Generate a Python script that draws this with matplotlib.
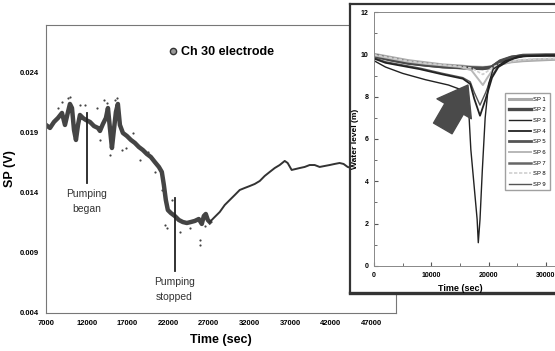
import matplotlib
matplotlib.use('Agg')
import matplotlib.pyplot as plt
from matplotlib.lines import Line2D
from matplotlib.ticker import MultipleLocator

plt.rcParams['font.family'] = ['Liberation Sans', 'DejaVu Sans']

# ---- main chart: Ch 30 electrode SP (V) vs time (sec)
time_noisy = [7000, 7490, 7980, 8470, 8960, 9330, 9700, 9940, 10190, 10440, 10680, 10930,
              11170, 11540, 11910, 12400, 12890, 13380, 13630, 13990, 14360, 14610, 14850,
              15100, 15340, 15590, 15830, 16080, 16450, 16940, 17430, 17920, 18410, 18900,
              19390, 19880, 20370, 20870, 21230, 21480, 21720, 21970, 22340, 22830, 23320,
              23810, 24300, 24790, 25280, 25770, 26140, 26390, 26630, 26880, 27120]
sp_noisy = [0.01967, 0.01942, 0.01992, 0.02025, 0.02067, 0.01967, 0.02075, 0.02142, 0.02108,
            0.01925, 0.01842, 0.01967, 0.0205, 0.02025, 0.02008, 0.01992, 0.01958, 0.01942,
            0.01917, 0.01975, 0.02025, 0.02108, 0.01942, 0.01775, 0.01925, 0.02075, 0.02142,
            0.01967, 0.019, 0.01875, 0.01842, 0.01817, 0.01783, 0.01758, 0.01725, 0.017,
            0.01658, 0.01617, 0.01575, 0.01467, 0.01342, 0.01258, 0.01233, 0.01208, 0.01175,
            0.01158, 0.0115, 0.01158, 0.01167, 0.01183, 0.01142, 0.01208, 0.01225, 0.01175,
            0.01158]
time_recovery = [27120, 27610, 28350, 28960, 29580, 30190, 30800, 31420, 32030, 32640, 33260,
                 33870, 34480, 35100, 35710, 36330, 36690, 37180, 37680, 38170, 38780, 39390,
                 40010, 40620, 41230, 41850, 42460, 43070, 43560, 44060, 44550, 45530, 48000]
sp_recovery = [0.01158, 0.01192, 0.01242, 0.013, 0.01342, 0.01383, 0.01425, 0.01442, 0.01458,
               0.01475, 0.015, 0.01542, 0.01575, 0.01608, 0.01633, 0.01667, 0.0165, 0.01592,
               0.016, 0.01608, 0.01617, 0.01633, 0.01633, 0.01617, 0.01625, 0.01633, 0.01642,
               0.0165, 0.01642, 0.01617, 0.01608, 0.01608, 0.0161]
outlier_time = [8470, 8960, 9700, 9940, 11170, 11790, 13260, 13630, 14120, 14480, 14850, 15470,
                15710, 16330, 16820, 17670, 18530, 19520, 20370, 21230, 21600, 21850, 22460,
                23440, 24670, 25900, 25900, 26510]
outlier_sp = [0.02108, 0.02158, 0.02192, 0.022, 0.02133, 0.02133, 0.02108, 0.01842, 0.02175,
              0.0215, 0.01717, 0.02175, 0.02192, 0.01758, 0.01775, 0.019, 0.01675, 0.0174,
              0.01575, 0.01425, 0.01133, 0.01108, 0.01342, 0.01075, 0.01108, 0.01008, 0.00967,
              0.01125]
main_xticks = [7000, 12000, 17000, 22000, 27000, 32000, 37000, 42000, 47000]
main_yticks = [0.004, 0.009, 0.014, 0.019, 0.024]
pump_began = 12000
pump_stopped = 22800

# ---- inset: water level (m) of SP 1..SP 9
t_flat = [0, 3000, 6000, 9000, 12000, 15000, 17000, 19000, 20500, 22000, 24000, 26000, 30000, 35000]
sp1 = [10.0, 9.85, 9.7, 9.6, 9.5, 9.45, 9.4, 9.38, 9.4, 9.55, 9.65, 9.7, 9.75, 9.8]
sp2 = [9.95, 9.75, 9.6, 9.5, 9.42, 9.38, 9.35, 9.33, 9.38, 9.65, 9.85, 9.95, 9.97, 9.97]
sp5 = [9.9, 9.72, 9.57, 9.48, 9.4, 9.36, 9.33, 9.32, 9.4, 9.7, 9.88, 9.93, 9.95, 9.95]
sp7 = [9.97, 9.8, 9.65, 9.55, 9.47, 9.42, 9.38, 9.36, 9.42, 9.68, 9.86, 9.94, 9.96, 9.96]
t_dip = [0, 3000, 6000, 9000, 12000, 15000, 17000, 18000, 19000, 19800, 20800, 22000, 24000,
         26000, 30000, 35000]
sp6 = [9.95, 9.8, 9.65, 9.55, 9.48, 9.4, 9.25, 8.9, 8.55, 8.9, 9.3, 9.5, 9.65, 9.72, 9.78, 9.8]
sp8 = [9.98, 9.83, 9.68, 9.58, 9.5, 9.43, 9.35, 9.2, 9.05, 9.2, 9.4, 9.55, 9.68, 9.75, 9.8, 9.82]
t_sp4 = [0, 2000, 4000, 8000, 12000, 15500, 16800, 17500, 18500, 19500, 20600, 21700, 23500,
         25100, 30000, 35000]
sp4 = [9.8, 9.6, 9.5, 9.3, 9.05, 8.85, 8.6, 7.9, 7.1, 7.9, 8.9, 9.4, 9.7, 9.9, 9.95, 9.95]
sp9 = [9.85, 9.65, 9.55, 9.35, 9.1, 8.9, 8.7, 8.2, 7.6, 8.2, 9.0, 9.45, 9.72, 9.9, 9.95, 9.95]
t_sp3 = [0, 2000, 5000, 9000, 13000, 15500, 16500, 16900, 17400, 18000, 18200, 18500, 18900,
         19400, 20000, 20800, 23000, 26000, 30000, 35000]
sp3 = [9.7, 9.4, 9.1, 8.8, 8.55, 8.3, 7.5, 5.5, 4.0, 2.2, 1.1, 2.2, 4.5, 7.0, 8.6, 9.3, 9.7,
       9.9, 9.95, 9.95]
sp_labels = ['SP 1', 'SP 2', 'SP 3', 'SP 4', 'SP 5', 'SP 6', 'SP 7', 'SP 8', 'SP 9']

fig = plt.figure(figsize=(5.55, 3.51), dpi=100)
ax = fig.add_axes([0.0829, 0.1083, 0.6306, 0.8205])

ax.plot(time_noisy, sp_noisy, '-', color='#444444', lw=3.2, solid_joinstyle='round')
ax.plot(time_recovery, sp_recovery, '-', color='#333333', lw=1.4)
ax.scatter(outlier_time, outlier_sp, s=2.5, color='#444444', lw=0)

ax.set_xlim(7000, 50000)
ax.set_ylim(0.004, 0.028)
ax.set_xticks(main_xticks)
ax.set_yticks(main_yticks)
ax.set_xticklabels([str(t) for t in main_xticks])
ax.set_yticklabels(['%.3f' % v for v in main_yticks])
ax.tick_params(length=0, labelsize=5.5, pad=5)
for lab in ax.get_xticklabels() + ax.get_yticklabels():
    lab.set_fontweight('bold')
for sp in ax.spines.values():
    sp.set_color('#777777')
    sp.set_linewidth(0.8)
ax.set_xlabel('Time (sec)', fontsize=9, fontweight='bold', labelpad=5)
ax.set_ylabel('SP (V)', fontsize=9, fontweight='bold', labelpad=3)

# pumping markers
ax.plot([pump_began, pump_began], [0.0207, 0.0148], color='#222222', lw=1.3)
ax.text(pump_began, 0.0143, 'Pumping\nbegan', ha='center', va='top', fontsize=7.5,
        color='#333333', linespacing=1.6)
ax.plot([pump_stopped, pump_stopped], [0.0136, 0.0075], color='#222222', lw=1.3)
ax.text(pump_stopped, 0.0070, 'Pumping\nstopped', ha='center', va='top', fontsize=7.5,
        color='#333333', linespacing=1.6)

proxy = Line2D([], [], marker='o', ls='none', ms=4.5, mfc='#999999', mec='#333333', mew=1)
ax.legend([proxy], ['Ch 30 electrode'], loc='upper center', bbox_to_anchor=(0.5, 0.965),
          frameon=False, handletextpad=0.2, prop={'size': 9, 'weight': 'bold'},
          handlelength=0.8)

# ---- inset frame
frame = fig.add_axes([0.6306, 0.1652, 0.40, 0.8234])
frame.set_xticks([])
frame.set_yticks([])
frame.set_facecolor('white')
for sp in frame.spines.values():
    sp.set_color('#333333')
    sp.set_linewidth(1.6)
frame.spines['bottom'].set_linewidth(2.4)

ins = fig.add_axes([0.6739, 0.2422, 0.3613, 0.7236])
ins.plot(t_flat, sp1, color='#aaaaaa', lw=2.2)
ins.plot(t_flat, sp7, color='#666666', lw=1.8)
ins.plot(t_flat, sp5, color='#555555', lw=2.0)
ins.plot(t_flat, sp2, color='#4a4a4a', lw=2.4)
ins.plot(t_dip, sp6, color='#b8b8b8', lw=1.4)
ins.plot(t_dip, sp8, color='#d0d0d0', lw=1.2, ls=(0, (2, 1)))
ins.plot(t_sp4, sp9, color='#555555', lw=1.0)
ins.plot(t_sp4, sp4, color='#222222', lw=1.3)
ins.plot(t_sp3, sp3, color='#222222', lw=1.0)

ins.annotate('', xy=(16400, 8.55), xytext=(12000, 6.5),
             arrowprops=dict(arrowstyle='simple,head_width=1.3,head_length=0.9,tail_width=0.7',
                             color='#4a4a4a', mutation_scale=22, shrinkA=0, shrinkB=0))

leg_handles = [
    Line2D([], [], color='#aaaaaa', lw=2.2),
    Line2D([], [], color='#4a4a4a', lw=2.4),
    Line2D([], [], color='#222222', lw=1.0),
    Line2D([], [], color='#222222', lw=1.3),
    Line2D([], [], color='#555555', lw=2.0),
    Line2D([], [], color='#b8b8b8', lw=1.4),
    Line2D([], [], color='#666666', lw=1.8),
    Line2D([], [], color='#d0d0d0', lw=1.2, ls=(0, (2, 1))),
    Line2D([], [], color='#555555', lw=1.0),
]
ins.legend(leg_handles, sp_labels, loc='upper left', bbox_to_anchor=(0.655, 0.68),
           fontsize=4.2, frameon=True, fancybox=False, edgecolor='#888888',
           handlelength=3.8, labelspacing=0.95, borderpad=0.6, handletextpad=0.4,
           borderaxespad=0)

ins.set_xlim(0, 35000)
ins.set_ylim(0, 12)
ins.set_xticks([0, 10000, 20000, 30000])
ins.set_yticks([0, 2, 4, 6, 8, 10, 12])
ins.xaxis.set_minor_locator(MultipleLocator(5000))
ins.yaxis.set_minor_locator(MultipleLocator(1))
ins.tick_params(which='both', direction='in', labelsize=5, pad=4, color='#555555')
ins.tick_params(which='major', length=3)
ins.tick_params(which='minor', length=2)
for lab in ins.get_xticklabels() + ins.get_yticklabels():
    lab.set_fontweight('bold')
for sp in ins.spines.values():
    sp.set_color('#888888')
    sp.set_linewidth(0.7)
ins.set_xlabel('Time (sec)', fontsize=6.5, fontweight='bold', labelpad=1)
ins.set_ylabel('Water level (m)', fontsize=6, fontweight='bold', labelpad=1)
ins.xaxis.set_label_coords(0.43, -0.07)

fig.savefig('out.png', dpi=100)
